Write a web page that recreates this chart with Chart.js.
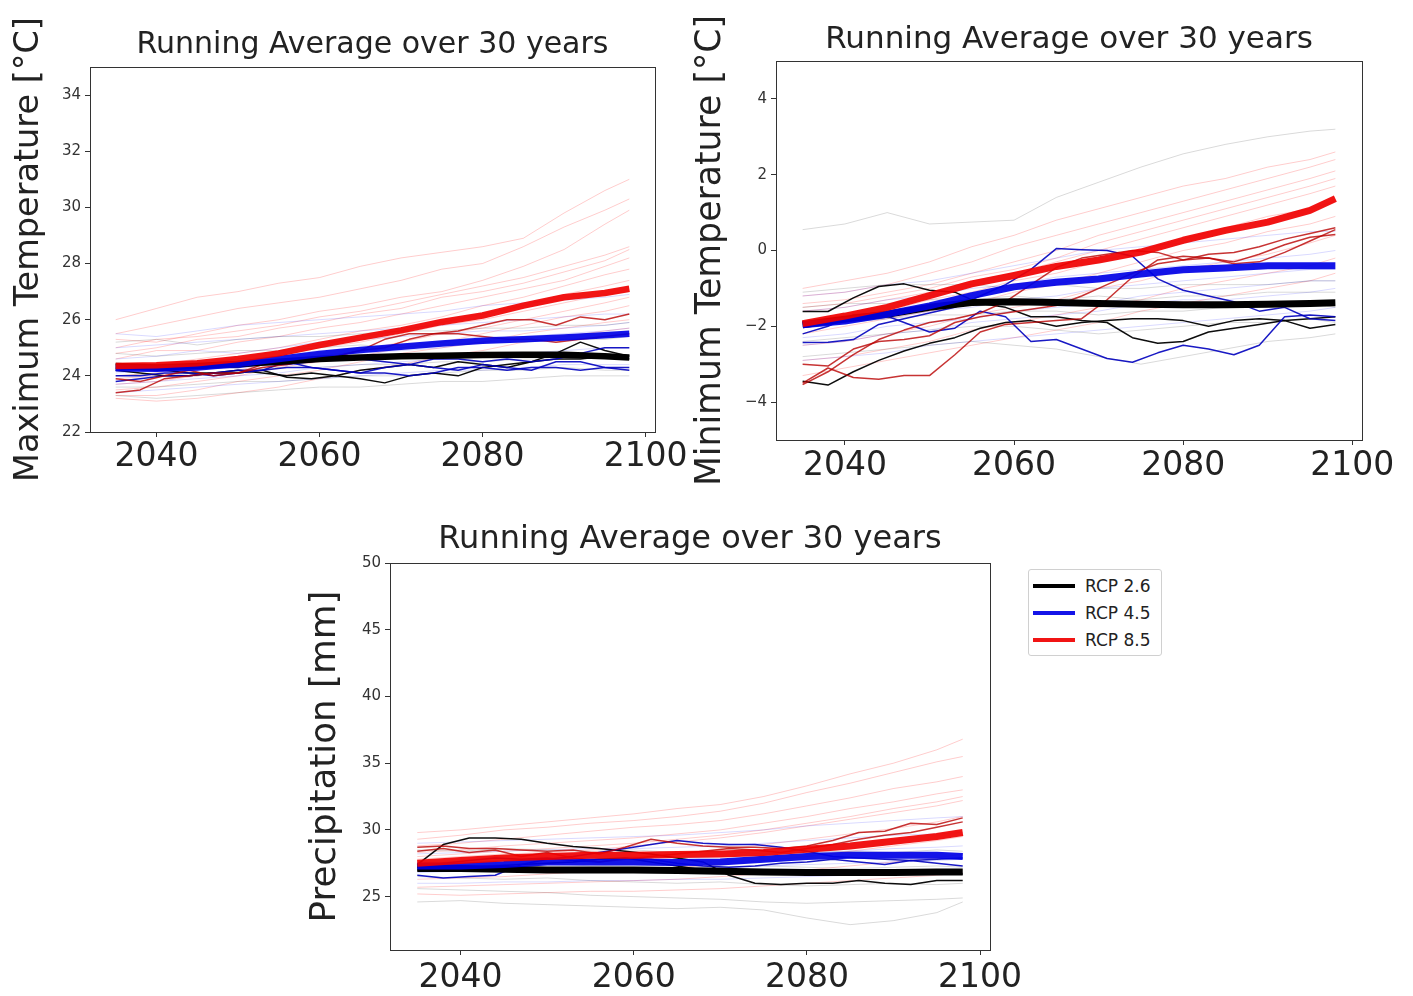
<!DOCTYPE html>
<html><head><meta charset="utf-8">
<script src="https://cdn.jsdelivr.net/npm/chart.js@4/dist/chart.umd.min.js"></script>
<style>
body{margin:0;background:#fff;width:1413px;height:996px;overflow:hidden;position:relative;font-family:'DejaVu Sans',sans-serif;}
canvas{position:absolute;}
#legend{position:absolute;left:1028px;top:569px;width:132px;height:85px;border:1px solid #d0d0d0;border-radius:3px;background:#fff;}
#legend .row{position:absolute;left:0;height:20px;width:132px;}
#legend .sw{position:absolute;left:4px;top:8px;width:42px;height:4px;}
#legend .tx{position:absolute;left:56px;top:0;font-size:17px;line-height:20px;color:#222;white-space:nowrap;}
</style></head><body>
<canvas id="c1" width="700" height="500" style="left:0px;top:0px"></canvas>
<canvas id="c2" width="733" height="500" style="left:680px;top:0px"></canvas>
<canvas id="c3" width="740" height="500" style="left:290px;top:496px"></canvas>
<div id="legend"></div>
<script>
// ---------- shared axes ----------
const yearsMean = [2035,2040,2045,2050,2055,2060,2065,2070,2075,2080,2085,2090,2095,2098];
const yearsRun  = [2035,2038,2041,2044,2047,2050,2053,2056,2059,2062,2065,2068,2071,2074,2077,2080,2083,2086,2089,2092,2095,2098];
const xTicks = [2040,2060,2080,2100];
const scenarioLabels = ['RCP 2.6','RCP 4.5','RCP 8.5'];
const panelTitle = 'Running Average over 30 years';

// ---------- Panel 1: Maximum temperature ----------
const tmaxTicks = [22,24,26,28,30,32,34];
const tmaxMean26 = [24.35,24.3,24.35,24.42,24.5,24.6,24.65,24.7,24.72,24.74,24.75,24.75,24.7,24.65];
const tmaxMean45 = [24.27,24.25,24.3,24.42,24.6,24.78,24.92,25.04,25.15,25.25,25.3,25.37,25.45,25.5];
const tmaxMean85 = [24.35,24.38,24.45,24.6,24.8,25.1,25.36,25.62,25.92,26.15,26.5,26.8,26.95,27.1];
const tmaxRun26a = [24.4,24.3,24.2,24.1,24.1,24.1,24.2,23.95,23.9,24.0,23.9,23.75,24.0,24.1,24.0,24.3,24.4,24.5,24.8,25.2,24.9,24.7];
const tmaxRun26b = [24.2,24.1,24.0,24.0,24.1,24.2,24.1,24.0,24.1,24.0,24.2,24.3,24.4,24.3,24.5,24.4,24.3,24.5,24.6,24.6,24.7,24.6];
const tmaxRun45a = [24.0,24.0,24.1,24.1,24.0,24.1,24.2,24.5,24.3,24.2,24.1,24.1,24.0,24.1,24.3,24.3,24.2,24.3,24.3,24.2,24.3,24.3];
const tmaxRun45b = [24.2,24.3,24.2,24.3,24.3,24.3,24.4,24.4,24.5,24.6,24.6,24.5,24.4,24.6,24.6,24.5,24.6,24.5,24.6,24.8,25.0,25.0];
const tmaxRun45c = [23.8,23.9,24.0,24.0,24.1,24.2,24.2,24.3,24.3,24.2,24.1,24.3,24.4,24.3,24.2,24.4,24.3,24.2,24.5,24.5,24.3,24.2];
const tmaxRun85a = [23.4,23.5,23.9,24.0,24.1,24.1,24.3,24.4,24.6,24.7,24.9,25.3,25.5,25.5,25.6,25.8,26.0,26.0,25.8,26.1,26.0,26.2];
const tmaxRun85b = [23.9,23.8,24.0,24.2,24.0,24.1,24.4,24.6,24.5,24.7,24.9,25.0,25.3,25.5,25.5,25.4,25.3,25.3,25.2,25.3,25.4,25.5];
const tmaxEns85 = [
 [26.0,26.4,26.8,27.0,27.3,27.5,27.9,28.2,28.4,28.6,28.9,29.8,30.6,31.0],
 [25.5,25.8,26.1,26.4,26.6,26.8,27.1,27.4,27.8,28.0,28.6,29.3,29.9,30.3],
 [25.3,25.2,25.5,25.8,26.0,26.3,26.5,26.8,27.0,27.4,27.9,28.5,29.4,29.9],
 [25.0,25.3,25.4,25.6,25.8,26.1,26.3,26.6,26.9,27.2,27.5,27.9,28.3,28.6],
 [24.8,25.0,25.3,25.4,25.7,25.9,26.2,26.4,26.8,27.0,27.3,27.7,28.1,28.5],
 [24.6,24.9,24.9,25.2,25.4,25.7,25.9,26.2,26.5,26.8,27.1,27.4,27.9,28.2],
 [24.2,24.4,24.6,24.8,25.0,25.3,25.6,25.8,26.1,26.5,26.8,27.2,27.6,27.8],
 [24.0,24.1,24.4,24.6,24.9,25.1,25.4,25.6,25.9,26.2,26.5,26.9,27.2,27.4],
 [23.9,24.0,24.2,24.5,24.7,25.0,25.2,25.5,25.8,26.0,26.3,26.6,26.9,27.0],
 [23.7,23.8,24.0,24.2,24.5,24.7,24.9,25.2,25.5,25.7,26.0,26.3,26.6,26.8],
 [23.5,23.6,23.8,24.0,24.3,24.5,24.7,25.0,25.2,25.5,25.8,26.1,26.3,26.5],
 [23.3,23.3,23.5,23.8,24.0,24.2,24.5,24.8,25.0,25.2,25.5,25.7,25.9,26.0],
 [23.2,23.1,23.2,23.4,23.6,23.9,24.2,24.4,24.7,24.9,25.2,25.4,25.6,25.7]];
const tmaxEns45 = [
 [25.5,25.4,25.6,25.8,25.9,26.0,26.1,26.2,26.3,26.5,26.6,26.7,26.8,26.9],
 [25.0,25.1,25.2,25.3,25.4,25.5,25.6,25.7,25.8,25.9,26.0,26.1,26.2,26.2],
 [24.6,24.7,24.9,24.8,25.0,25.2,25.3,25.4,25.5,25.6,25.6,25.7,25.8,25.9],
 [24.4,24.4,24.5,24.6,24.7,24.9,25.0,25.1,25.2,25.4,25.4,25.5,25.6,25.7],
 [24.1,24.2,24.3,24.4,24.6,24.7,24.8,24.9,25.0,25.2,25.3,25.3,25.4,25.5],
 [23.7,23.8,23.9,24.0,24.1,24.3,24.4,24.5,24.6,24.7,24.8,24.9,25.0,25.0],
 [23.4,23.5,23.6,23.7,23.8,23.9,24.0,24.1,24.2,24.2,24.3,24.4,24.4,24.4]];
const tmaxEns26 = [
 [25.2,25.3,25.1,25.3,25.4,25.4,25.5,25.6,25.6,25.7,25.7,25.8,25.8,25.9],
 [24.8,24.7,24.8,24.9,24.9,25.0,25.1,25.0,25.1,25.2,25.2,25.3,25.3,25.4],
 [24.0,24.1,24.0,24.2,24.3,24.3,24.4,24.4,24.5,24.5,24.6,24.6,24.7,24.7],
 [23.6,23.6,23.7,23.8,23.8,23.9,24.0,24.0,24.1,24.2,24.2,24.3,24.2,24.2],
 [23.3,23.2,23.3,23.4,23.5,23.6,23.6,23.7,23.8,23.8,23.9,24.0,24.0,24.0]];

// ---------- Panel 2: Minimum temperature ----------
const tminTicks = [-4,-2,0,2,4];
const tminMean26 = [-1.96,-1.81,-1.68,-1.5,-1.37,-1.35,-1.37,-1.4,-1.42,-1.43,-1.43,-1.42,-1.4,-1.38];
const tminMean45 = [-1.96,-1.86,-1.68,-1.46,-1.19,-0.96,-0.84,-0.75,-0.62,-0.51,-0.46,-0.4,-0.4,-0.4];
const tminMean85 = [-1.93,-1.73,-1.5,-1.19,-0.88,-0.66,-0.42,-0.25,-0.04,0.27,0.53,0.75,1.06,1.37];
const tminRun26a = [-1.61,-1.61,-1.25,-0.95,-0.88,-1.05,-1.1,-1.4,-1.5,-1.75,-1.75,-1.85,-1.9,-2.3,-2.45,-2.4,-2.15,-2.05,-1.95,-1.85,-2.05,-1.95];
const tminRun26b = [-3.45,-3.55,-3.2,-2.9,-2.65,-2.45,-2.3,-2.05,-1.9,-1.85,-2.0,-1.9,-1.85,-1.8,-1.8,-1.85,-2.0,-1.85,-1.8,-1.85,-1.8,-1.75];
const tminRun45a = [-2.43,-2.42,-2.35,-1.95,-1.8,-1.65,-1.5,-1.2,-0.9,-0.5,0.05,0.02,0.0,-0.15,-0.75,-1.05,-1.2,-1.35,-1.6,-1.5,-1.8,-1.85];
const tminRun45b = [-2.2,-2.0,-1.7,-1.65,-1.9,-2.15,-2.05,-1.6,-1.75,-2.4,-2.35,-2.6,-2.85,-2.95,-2.7,-2.5,-2.6,-2.75,-2.5,-1.75,-1.7,-1.75];
const tminRun85a = [-3.54,-3.2,-2.75,-2.35,-2.1,-1.9,-1.8,-1.65,-1.35,-0.9,-0.45,-0.2,-0.1,0.0,-0.05,-0.25,-0.1,-0.05,0.1,0.3,0.45,0.6];
const tminRun85b = [-3.0,-3.05,-2.6,-2.4,-2.35,-2.25,-1.9,-1.75,-1.65,-1.55,-1.45,-1.2,-0.9,-0.6,-0.35,-0.25,-0.2,-0.3,-0.1,0.15,0.35,0.42];
const tminRun85c = [-3.5,-3.1,-3.35,-3.4,-3.3,-3.3,-2.75,-2.15,-1.95,-1.9,-1.85,-1.8,-1.3,-0.7,-0.25,-0.15,-0.2,-0.35,-0.3,-0.05,0.25,0.55];
const tminEns85 = [
 [-1.0,-0.8,-0.6,-0.3,0.1,0.4,0.8,1.1,1.4,1.7,1.9,2.2,2.4,2.6],
 [-1.2,-1.1,-0.9,-0.6,-0.3,0.1,0.4,0.7,1.0,1.3,1.6,1.9,2.2,2.4],
 [-1.4,-1.3,-1.1,-0.9,-0.6,-0.3,0.0,0.4,0.7,1.0,1.3,1.6,1.9,2.1],
 [-1.5,-1.4,-1.2,-1.0,-0.7,-0.5,-0.2,0.2,0.5,0.8,1.1,1.4,1.7,1.9],
 [-1.6,-1.5,-1.3,-1.1,-0.8,-0.6,-0.3,0.0,0.3,0.6,0.9,1.2,1.5,1.7],
 [-1.9,-1.7,-1.6,-1.3,-1.1,-0.8,-0.6,-0.3,0.0,0.3,0.6,0.9,1.1,1.3],
 [-2.2,-2.0,-1.8,-1.6,-1.4,-1.1,-0.9,-0.6,-0.3,0.0,0.2,0.5,0.7,0.9],
 [-2.5,-2.4,-2.2,-2.0,-1.7,-1.5,-1.3,-1.0,-0.8,-0.5,-0.3,-0.1,0.2,0.4],
 [-2.9,-2.8,-2.6,-2.4,-2.1,-1.9,-1.7,-1.5,-1.3,-1.0,-0.8,-0.6,-0.4,-0.2],
 [-3.3,-3.1,-2.9,-2.7,-2.5,-2.3,-2.1,-1.9,-1.6,-1.4,-1.2,-1.0,-0.8,-0.6]];
const tminEns45 = [
 [-1.2,-1.1,-0.9,-0.8,-0.6,-0.4,-0.2,0.0,0.1,0.2,0.3,0.4,0.5,0.5],
 [-1.6,-1.5,-1.3,-1.2,-1.0,-0.9,-0.7,-0.6,-0.5,-0.4,-0.3,-0.2,-0.1,0.0],
 [-2.0,-1.9,-1.8,-1.6,-1.5,-1.3,-1.2,-1.0,-0.9,-0.8,-0.7,-0.6,-0.5,-0.5],
 [-2.3,-2.2,-2.0,-1.9,-1.8,-1.6,-1.5,-1.4,-1.2,-1.1,-1.0,-0.9,-0.8,-0.8],
 [-2.5,-2.4,-2.2,-2.1,-1.9,-1.8,-1.7,-1.6,-1.4,-1.3,-1.3,-1.2,-1.1,-1.0],
 [-2.9,-2.8,-2.7,-2.5,-2.4,-2.3,-2.2,-2.1,-2.0,-1.9,-1.8,-1.7,-1.6,-1.5]];
const tminEns26 = [
 [0.55,0.7,1.0,0.7,0.75,0.8,1.4,1.8,2.2,2.55,2.8,3.0,3.15,3.2],
 [-1.1,-1.0,-0.9,-0.9,-0.9,-1.0,-0.9,-1.0,-1.0,-0.9,-0.9,-0.9,-0.8,-0.8],
 [-1.5,-1.4,-1.4,-1.3,-1.3,-1.2,-1.3,-1.2,-1.3,-1.2,-1.2,-1.1,-1.1,-1.1],
 [-2.0,-1.9,-1.8,-1.7,-1.7,-1.6,-1.6,-1.7,-1.6,-1.6,-1.5,-1.5,-1.4,-1.5],
 [-2.4,-2.3,-2.2,-2.1,-2.0,-2.0,-2.1,-2.2,-2.1,-2.0,-1.9,-1.9,-1.8,-1.9],
 [-2.8,-2.7,-2.6,-2.5,-2.4,-2.5,-2.6,-2.8,-3.0,-2.8,-2.6,-2.4,-2.3,-2.2]];

// ---------- Panel 3: Precipitation ----------
const precTicks = [25,30,35,40,45,50];
const precMean26 = [27.1,27.1,27.05,27.0,27.0,27.0,26.95,26.9,26.85,26.8,26.8,26.8,26.85,26.85];
const precMean45 = [27.3,27.3,27.4,27.6,27.6,27.6,27.55,27.6,27.8,28.0,28.1,28.1,28.1,28.0];
const precMean85 = [27.5,27.7,27.9,28.0,28.1,28.1,28.15,28.2,28.3,28.55,28.8,29.15,29.5,29.8];
const precRun26a = [27.4,28.9,29.4,29.4,29.3,29.0,28.75,28.6,28.4,28.2,27.9,27.6,26.6,26.0,25.9,26.0,26.0,26.2,26.0,25.9,26.2,26.2];
const precRun26b = [27.0,27.1,27.2,27.3,27.4,27.5,27.6,27.8,27.9,27.6,27.3,27.0,26.9,26.8,26.9,26.8,26.7,26.9,26.8,26.7,26.8,26.7];
const precRun45a = [26.6,26.4,26.5,26.6,27.4,27.8,28.0,28.3,28.6,28.9,29.2,29.0,28.9,28.9,28.7,28.4,28.0,27.9,27.8,27.7,27.8,27.9];
const precRun45b = [27.2,27.5,27.7,27.9,27.8,27.9,27.7,27.6,27.9,27.8,27.5,27.3,27.2,27.3,27.5,27.6,27.8,27.6,27.4,27.7,27.5,27.3];
const precRun85a = [28.7,28.8,28.6,28.6,28.5,28.4,28.5,28.2,28.7,29.3,29.0,28.8,28.7,28.7,28.6,28.8,29.2,29.8,29.9,30.5,30.4,30.9];
const precRun85b = [28.4,28.6,28.3,28.5,28.0,28.3,27.9,27.6,27.8,28.0,28.2,28.4,28.6,28.5,28.3,28.6,28.9,29.3,29.6,29.8,30.2,30.6];
const precEns85 = [
 [29.8,30.0,30.3,30.6,30.9,31.2,31.6,31.9,32.5,33.3,34.2,35.0,36.0,36.8],
 [29.3,29.6,30.0,30.2,30.5,30.7,31.0,31.4,32.0,32.8,33.5,34.3,35.1,35.5],
 [28.8,29.0,29.3,29.6,29.9,30.2,30.4,30.7,31.2,31.8,32.4,33.1,33.6,34.0],
 [28.3,28.5,28.8,29.0,29.2,29.4,29.7,30.0,30.5,31.0,31.6,32.1,32.7,33.0],
 [28.0,28.2,28.4,28.6,28.8,29.0,29.3,29.6,30.0,30.5,31.0,31.6,32.1,32.5],
 [27.8,28.0,28.2,28.3,28.5,28.8,29.1,29.4,29.8,30.3,30.8,31.3,31.8,32.2],
 [27.0,27.2,27.4,27.6,27.8,28.0,28.2,28.5,28.9,29.3,29.7,30.1,30.6,31.0],
 [26.3,26.4,26.5,26.7,26.9,27.0,27.2,27.4,27.7,28.0,28.4,28.8,29.2,29.5],
 [25.7,25.8,25.9,26.0,26.1,26.2,26.3,26.5,26.7,27.0,27.3,27.6,27.9,28.2],
 [25.2,25.1,25.2,25.3,25.4,25.4,25.5,25.6,25.8,26.0,26.2,26.4,26.6,26.8]];
const precEns45 = [
 [29.0,29.1,29.2,29.3,29.4,29.5,29.6,29.8,30.0,30.3,30.5,30.7,30.9,31.0],
 [28.2,28.3,28.4,28.5,28.6,28.6,28.7,28.8,29.0,29.2,29.4,29.6,29.7,29.8],
 [27.6,27.6,27.7,27.8,27.8,27.9,27.9,28.0,28.1,28.3,28.4,28.6,28.7,28.8],
 [26.8,26.9,26.9,27.0,27.0,27.1,27.1,27.2,27.3,27.4,27.5,27.6,27.7,27.8],
 [26.0,26.0,26.1,26.1,26.2,26.2,26.3,26.3,26.4,26.5,26.6,26.7,26.8,26.8]];
const precEns26 = [
 [28.5,28.4,28.6,28.5,28.4,28.5,28.3,28.4,28.2,28.3,28.4,28.3,28.5,28.4],
 [27.5,27.6,27.4,27.5,27.3,27.4,27.3,27.2,27.3,27.2,27.1,27.2,27.3,27.2],
 [26.5,26.4,26.3,26.4,26.2,26.1,26.0,26.1,25.9,25.8,25.9,26.0,25.9,26.0],
 [25.6,25.5,25.4,25.3,25.1,25.0,24.9,24.8,24.6,24.5,24.6,24.7,24.8,24.9],
 [24.6,24.7,24.5,24.4,24.3,24.2,24.1,24.2,24.0,23.4,22.9,23.2,23.8,24.6]];

// ---------- styling ----------
const FONT = "'DejaVu Sans', sans-serif";
const COL_MEAN  = ['#000000','rgba(0,0,230,0.92)','rgba(240,0,0,0.92)'];
const COL_RUN   = ['rgba(0,0,0,0.95)','rgba(0,0,190,0.9)','rgba(185,0,0,0.8)'];
const COL_FAINT = ['rgba(0,0,0,0.15)','rgba(0,0,255,0.15)','rgba(255,0,0,0.2)'];

function pts(xs, ys){ return ys.map((y,i)=>({x:xs[i], y:y})); }
function line(xs, ys, color, width, order){
  return {data:pts(xs,ys), borderColor:color, borderWidth:width, pointRadius:0, fill:false,
          tension:0, order:order, borderJoinStyle:'round', borderCapStyle:'butt'};
}
function buildDatasets(ens, runs, means, meanWidth){
  const out = [];
  ens.forEach((group, s) => group.forEach(ys => out.push(line(yearsMean, ys, COL_FAINT[s], 1, 40))));
  runs.forEach((group, s) => group.forEach(ys => out.push(line(yearsRun, ys, COL_RUN[s], 1.5, 20 - s))));
  means.forEach((ys, s) => out.push(line(yearsMean, ys, COL_MEAN[s], meanWidth, 3 - s)));
  return out;
}

const framePlugin = {
  id:'frame',
  afterDraw(chart){
    const {ctx, chartArea:a} = chart;
    ctx.save(); ctx.strokeStyle = '#333'; ctx.lineWidth = 1;
    ctx.strokeRect(Math.round(a.left)+0.5, Math.round(a.top)+0.5, Math.round(a.right-a.left), Math.round(a.bottom-a.top));
    ctx.restore();
  }
};

function fmt(v){ return v < 0 ? '\u2212' + Math.abs(v) : String(v); }

function makePanel(id, o, datasets){
  const c = document.getElementById(id);
  const W = c.width, H = c.height;
  const tLH = o.titleSize * 1.2;
  new Chart(c, {
    type:'line',
    data:{datasets:datasets},
    options:{
      responsive:false, animation:false, devicePixelRatio:1,
      layout:{padding:{left:0, top:0, right:W - o.right, bottom:0}},
      plugins:{
        legend:{display:false}, tooltip:{enabled:false},
        title:{display:true, text:panelTitle, fullSize:false, color:'#222',
               font:{family:FONT, size:o.titleSize, weight:'normal'},
               padding:{top:o.titleCenter - tLH/2, bottom:o.top - (o.titleCenter - tLH/2) - tLH}}
      },
      scales:{
        x:{type:'linear', min:2031.85, max:2101.15,
           afterBuildTicks:s=>{ s.ticks = xTicks.map(v=>({value:v})); },
           afterFit:s=>{ s.height = H - o.bottom; s.paddingLeft = 0; s.paddingRight = 0; },
           ticks:{autoSkip:false, maxRotation:0, minRotation:0, color:'#222', padding:o.xPad,
                  font:{family:FONT, size:33}, callback:v=>String(v)},
           grid:{drawOnChartArea:false, drawTicks:true, tickLength:5, color:'#333'},
           border:{display:false}},
        y:{type:'linear', min:o.ymin, max:o.ymax,
           afterBuildTicks:s=>{ s.ticks = o.yTicks.map(v=>({value:v})); },
           afterFit:s=>{ s.width = o.left; s.paddingTop = 0; s.paddingBottom = 0; },
           ticks:{color:'#333', padding:4, font:{family:FONT, size:15}, callback:v=>fmt(v)},
           grid:{drawOnChartArea:false, drawTicks:true, tickLength:5, color:'#333'},
           border:{display:false},
           title:{display:true, text:o.ylabel, color:'#222',
                  font:{family:FONT, size:o.ylabelSize},
                  padding:{top:o.ylabelCenter - o.ylabelSize*0.6, bottom:0}}}
      }
    },
    plugins:[framePlugin]
  });
}

makePanel('c1', {left:90, right:655, top:67, bottom:432, ymin:22, ymax:35, yTicks:tmaxTicks,
  titleSize:30, titleCenter:45, ylabel:'Maximum Temperature [°C]', ylabelSize:33.5, ylabelCenter:29, xPad:1},
  buildDatasets([tmaxEns26, tmaxEns45, tmaxEns85],
                [[tmaxRun26a, tmaxRun26b],[tmaxRun45a, tmaxRun45b, tmaxRun45c],[tmaxRun85a, tmaxRun85b]],
                [tmaxMean26, tmaxMean45, tmaxMean85], 6.5));

makePanel('c2', {left:96, right:682, top:61, bottom:440, ymin:-5, ymax:5, yTicks:tminTicks,
  titleSize:31, titleCenter:40, ylabel:'Minimum Temperature [°C]', ylabelSize:34.7, ylabelCenter:31, xPad:2},
  buildDatasets([tminEns26, tminEns45, tminEns85],
                [[tminRun26a, tminRun26b],[tminRun45a, tminRun45b],[tminRun85a, tminRun85b, tminRun85c]],
                [tminMean26, tminMean45, tminMean85], 7));

makePanel('c3', {left:100, right:700, top:67, bottom:454, ymin:21, ymax:50, yTicks:precTicks,
  titleSize:32, titleCenter:44, ylabel:'Precipitation [mm]', ylabelSize:35.7, ylabelCenter:36, xPad:4},
  buildDatasets([precEns26, precEns45, precEns85],
                [[precRun26a, precRun26b],[precRun45a, precRun45b],[precRun85a, precRun85b]],
                [precMean26, precMean45, precMean85], 7));

// legend
const lg = document.getElementById('legend');
scenarioLabels.forEach((t, i) => {
  const r = document.createElement('div'); r.className = 'row'; r.style.top = (6 + i*27) + 'px';
  const sw = document.createElement('div'); sw.className = 'sw'; sw.style.background = COL_MEAN[i];
  const tx = document.createElement('div'); tx.className = 'tx'; tx.textContent = t;
  r.appendChild(sw); r.appendChild(tx); lg.appendChild(r);
});
</script>
</body></html>
